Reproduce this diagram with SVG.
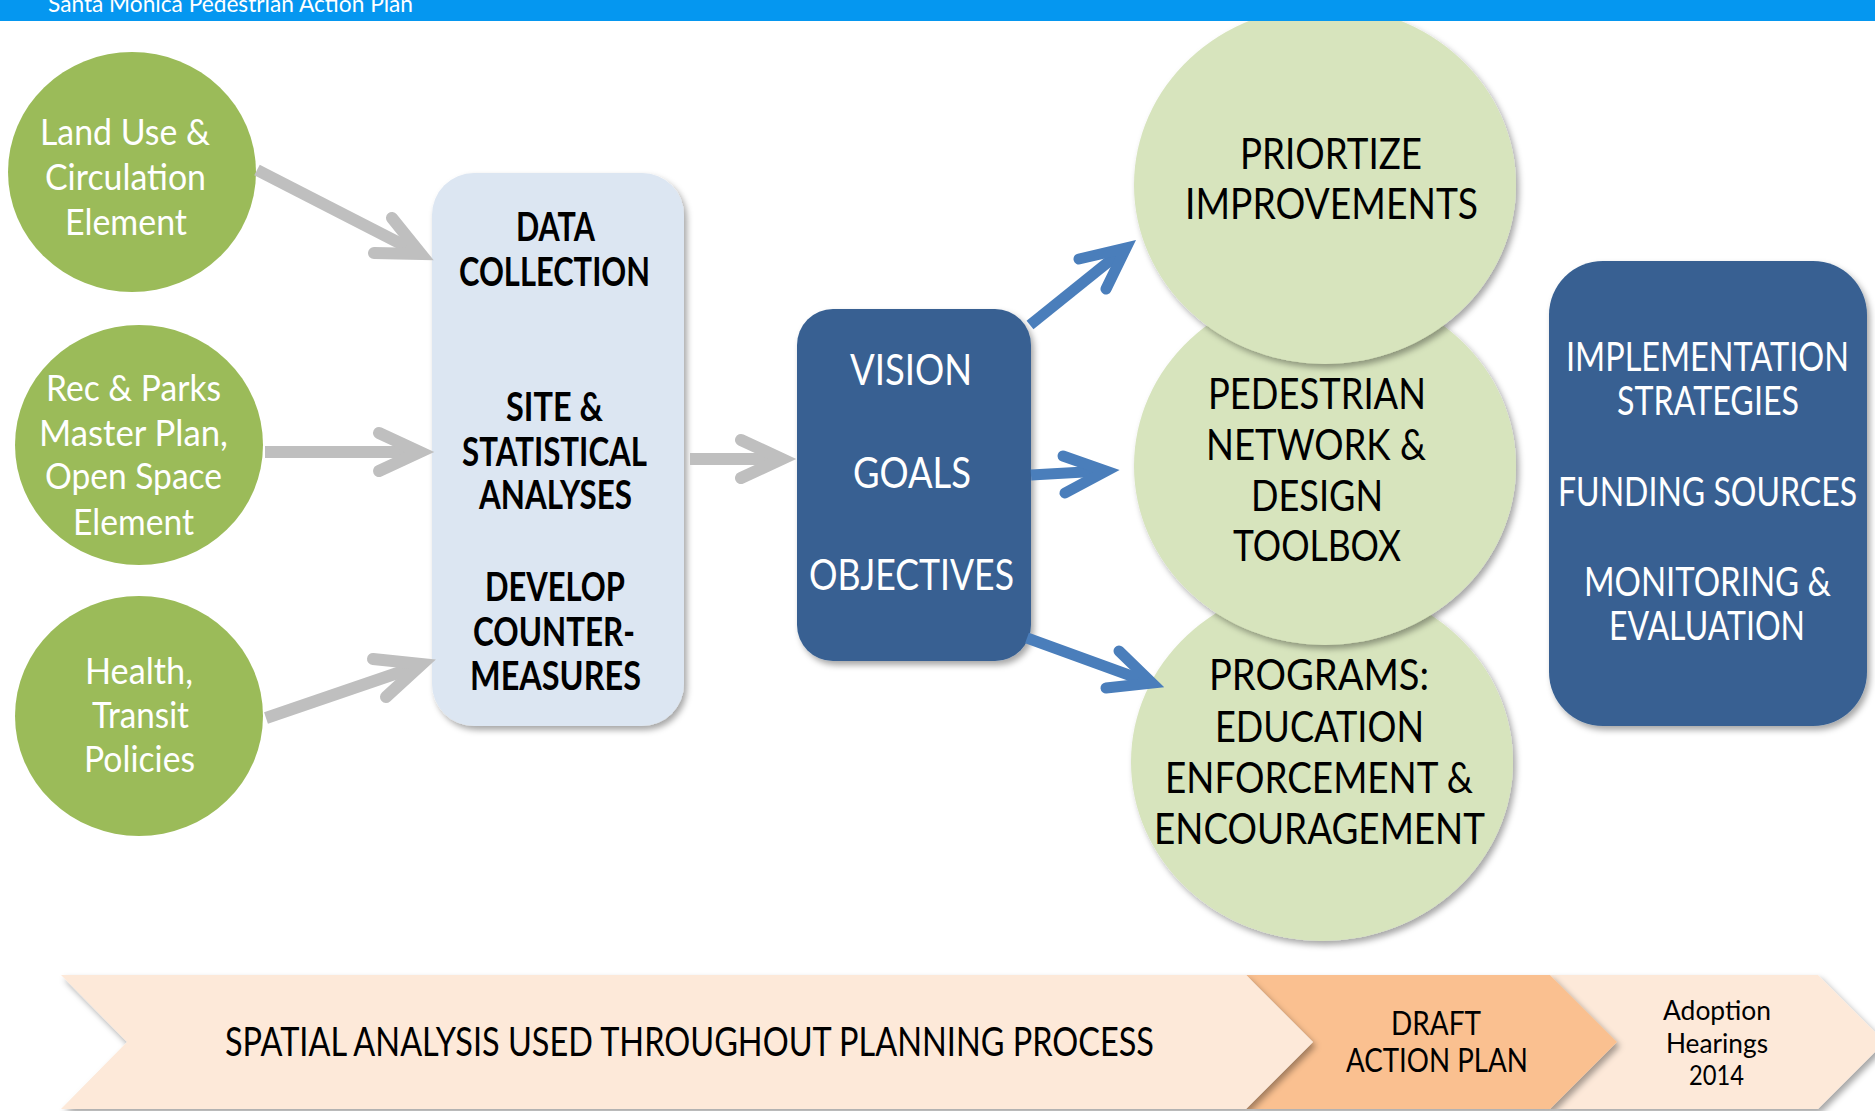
<svg xmlns="http://www.w3.org/2000/svg" width="1875" height="1111" viewBox="0 0 1875 1111">
<style>
text{font-family:Lato,"Open Sans","Liberation Sans",sans-serif;}
.w{fill:#fff;}
.k{fill:#000;}
.ell{font-size:36px;}
.bx{font-size:40px;font-weight:bold;}
.vb{font-size:42px;}
.cr{font-size:42px;}
.im{font-size:40px;}
.gshaft{stroke:#BFBFBF;stroke-width:12;fill:none;stroke-linecap:butt;}
.ghead{stroke:#BFBFBF;stroke-width:12;fill:none;stroke-linecap:round;stroke-linejoin:miter;stroke-miterlimit:10;}
.bshaft{stroke:#4A7EBB;stroke-width:11;fill:none;stroke-linecap:butt;}
.bhead{stroke:#4A7EBB;stroke-width:11;fill:none;stroke-linecap:round;stroke-linejoin:miter;stroke-miterlimit:10;}
</style>
<defs>
<filter id="sh" x="-10%" y="-10%" width="125%" height="125%">
<feDropShadow dx="3" dy="4" stdDeviation="3" flood-color="#000" flood-opacity="0.35"/>
</filter>
</defs>
<rect width="1875" height="1111" fill="#fff"/>

<g id="timeline">
<polygon points="1550,975 1818,975 1885,1042 1818,1109 1550,1109 1617,1042" fill="#FDE9D9" filter="url(#sh)"/>
<polygon points="1246,975 1550,975 1617,1042 1550,1109 1246,1109 1313,1042" fill="#FAC090" filter="url(#sh)"/>
<polygon points="61,975 1246,975 1313,1042 1246,1109 61,1109 127,1042" fill="#FDE9D9" filter="url(#sh)"/>
<text class="k" x="225" y="1056" font-size="40" textLength="929" lengthAdjust="spacingAndGlyphs">SPATIAL ANALYSIS USED THROUGHOUT PLANNING PROCESS</text>
<text class="k" x="1391" y="1035" font-size="33" textLength="90" lengthAdjust="spacingAndGlyphs">DRAFT</text>
<text class="k" x="1346" y="1072" font-size="33" textLength="182" lengthAdjust="spacingAndGlyphs">ACTION PLAN</text>
<text class="k" x="1663" y="1020" font-size="26" textLength="108" lengthAdjust="spacingAndGlyphs">Adoption</text>
<text class="k" x="1666" y="1053" font-size="26" textLength="102" lengthAdjust="spacingAndGlyphs">Hearings</text>
<text class="k" x="1689" y="1085" font-size="26" textLength="55" lengthAdjust="spacingAndGlyphs">2014</text>
</g>

<g id="land-use">
<ellipse cx="132" cy="172" rx="124" ry="120" fill="#9BBB59"/>
<text class="w ell" x="40" y="145" textLength="170" lengthAdjust="spacingAndGlyphs">Land Use &amp;</text>
<text class="w ell" x="45" y="190" textLength="161" lengthAdjust="spacingAndGlyphs">Circulation</text>
<text class="w ell" x="65" y="235" textLength="122" lengthAdjust="spacingAndGlyphs">Element</text>
</g>
<g id="rec-parks">
<ellipse cx="139" cy="445" rx="124" ry="120" fill="#9BBB59"/>
<text class="w ell" x="46" y="401" textLength="175" lengthAdjust="spacingAndGlyphs">Rec &amp; Parks</text>
<text class="w ell" x="39" y="446" textLength="189" lengthAdjust="spacingAndGlyphs">Master Plan,</text>
<text class="w ell" x="45" y="489" textLength="177" lengthAdjust="spacingAndGlyphs">Open Space</text>
<text class="w ell" x="73" y="535" textLength="121" lengthAdjust="spacingAndGlyphs">Element</text>
</g>
<g id="health">
<ellipse cx="139" cy="716" rx="124" ry="120" fill="#9BBB59"/>
<text class="w ell" x="85" y="684" textLength="108" lengthAdjust="spacingAndGlyphs">Health,</text>
<text class="w ell" x="92" y="728" textLength="97" lengthAdjust="spacingAndGlyphs">Transit</text>
<text class="w ell" x="84" y="772" textLength="111" lengthAdjust="spacingAndGlyphs">Policies</text>
</g>

<g id="analysis">
<rect x="432" y="173" width="252" height="553" rx="42" fill="#DCE6F2" filter="url(#sh)"/>
<text class="k bx" x="516" y="241" textLength="79" lengthAdjust="spacingAndGlyphs">DATA</text>
<text class="k bx" x="459" y="286" textLength="191" lengthAdjust="spacingAndGlyphs">COLLECTION</text>
<text class="k bx" x="506" y="421" textLength="97" lengthAdjust="spacingAndGlyphs">SITE &amp;</text>
<text class="k bx" x="462" y="466" textLength="185" lengthAdjust="spacingAndGlyphs">STATISTICAL</text>
<text class="k bx" x="479" y="509" textLength="153" lengthAdjust="spacingAndGlyphs">ANALYSES</text>
<text class="k bx" x="485" y="601" textLength="140" lengthAdjust="spacingAndGlyphs">DEVELOP</text>
<text class="k bx" x="473" y="646" textLength="162" lengthAdjust="spacingAndGlyphs">COUNTER-</text>
<text class="k bx" x="470" y="690" textLength="171" lengthAdjust="spacingAndGlyphs">MEASURES</text>
</g>

<g id="vision">
<rect x="797" y="309" width="234" height="352" rx="36" fill="#376092" filter="url(#sh)"/>
<text class="w vb" x="850" y="385" textLength="122" lengthAdjust="spacingAndGlyphs">VISION</text>
<text class="w vb" x="853" y="488" textLength="118" lengthAdjust="spacingAndGlyphs">GOALS</text>
<text class="w vb" x="809" y="590" textLength="205" lengthAdjust="spacingAndGlyphs">OBJECTIVES</text>
</g>

<g id="programs">
<ellipse cx="1322" cy="762" rx="191" ry="179" fill="#D7E4BD" filter="url(#sh)"/>
<text class="k cr" x="1209" y="690" textLength="220" lengthAdjust="spacingAndGlyphs">PROGRAMS:</text>
<text class="k cr" x="1215" y="742" textLength="209" lengthAdjust="spacingAndGlyphs">EDUCATION</text>
<text class="k cr" x="1165" y="793" textLength="308" lengthAdjust="spacingAndGlyphs">ENFORCEMENT &amp;</text>
<text class="k cr" x="1154" y="844" textLength="331" lengthAdjust="spacingAndGlyphs">ENCOURAGEMENT</text>
</g>
<g id="network">
<ellipse cx="1325" cy="466" rx="191" ry="179" fill="#D7E4BD" filter="url(#sh)"/>
<text class="k cr" x="1208" y="409" textLength="218" lengthAdjust="spacingAndGlyphs">PEDESTRIAN</text>
<text class="k cr" x="1206" y="460" textLength="220" lengthAdjust="spacingAndGlyphs">NETWORK &amp;</text>
<text class="k cr" x="1251" y="511" textLength="132" lengthAdjust="spacingAndGlyphs">DESIGN</text>
<text class="k cr" x="1233" y="561" textLength="168" lengthAdjust="spacingAndGlyphs">TOOLBOX</text>
</g>
<g id="prioritize">
<ellipse cx="1325" cy="185" rx="191" ry="179" fill="#D7E4BD" filter="url(#sh)"/>
<text class="k cr" x="1240" y="169" textLength="182" lengthAdjust="spacingAndGlyphs">PRIORTIZE</text>
<text class="k cr" x="1185" y="219" textLength="293" lengthAdjust="spacingAndGlyphs">IMPROVEMENTS</text>
</g>

<g id="implementation">
<rect x="1549" y="261" width="318" height="465" rx="54" fill="#376092" filter="url(#sh)"/>
<text class="w im" x="1566" y="371" textLength="283" lengthAdjust="spacingAndGlyphs">IMPLEMENTATION</text>
<text class="w im" x="1617" y="415" textLength="182" lengthAdjust="spacingAndGlyphs">STRATEGIES</text>
<text class="w im" x="1558" y="506" textLength="299" lengthAdjust="spacingAndGlyphs">FUNDING SOURCES</text>
<text class="w im" x="1584" y="596" textLength="247" lengthAdjust="spacingAndGlyphs">MONITORING &amp;</text>
<text class="w im" x="1609" y="640" textLength="196" lengthAdjust="spacingAndGlyphs">EVALUATION</text>
</g>

<g id="connectors">
<line class="gshaft" x1="257" y1="170" x2="417" y2="252"/>
<polyline class="ghead" points="392,218 421,254 374,253"/>
<line class="gshaft" x1="265" y1="452" x2="416" y2="452"/>
<polyline class="ghead" points="379,433 420,452 379,471"/>
<line class="gshaft" x1="266" y1="718" x2="418" y2="666"/>
<polyline class="ghead" points="373,659 422,664 386,697"/>
<line class="gshaft" x1="690" y1="459" x2="778" y2="459"/>
<polyline class="ghead" points="741,440 782,459 741,478"/>
<line class="bshaft" x1="1030" y1="325" x2="1122" y2="251"/>
<polyline class="bhead" points="1079,259 1126,248 1106,289"/>
<line class="bshaft" x1="1031" y1="475" x2="1102" y2="471"/>
<polyline class="bhead" points="1063,456 1106,471 1065,493"/>
<line class="bshaft" x1="1027" y1="638" x2="1148" y2="682"/>
<polyline class="bhead" points="1119,651 1152,683 1106,688"/>
</g>

<g id="header">
<rect x="0" y="0" width="1875" height="21" fill="#0597F0"/>
<text class="w" x="48" y="12" font-size="24" textLength="365" lengthAdjust="spacingAndGlyphs">Santa Monica Pedestrian Action Plan</text>
</g>
</svg>
